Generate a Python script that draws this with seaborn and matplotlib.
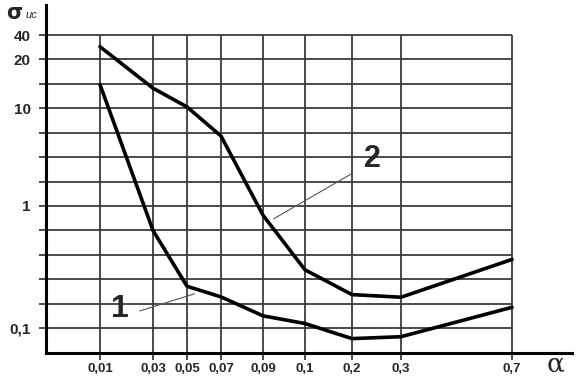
import matplotlib
matplotlib.use("Agg")

import matplotlib.pyplot as plt
import numpy as np
import pandas as pd
import seaborn as sns


OUT_PATH = "out.png"

# values
ALPHA = [0.01, 0.03, 0.05, 0.07, 0.09, 0.1, 0.2, 0.3, 0.7]
ALPHA_LABELS = ["0,01", "0,03", "0,05", "0,07", "0,09", "0,1", "0,2", "0,3", "0,7"]
SIGMA_1 = [14.0, 0.63, 0.22, 0.18, 0.126, 0.109, 0.082, 0.085, 0.148]
SIGMA_2 = [28.7, 13.3, 10.2, 5.2, 0.84, 0.30, 0.188, 0.179, 0.365]
Y_TICKS = [0.1, 1, 10, 20, 40]
Y_TICK_LABELS = ["0,1", "1", "10", "20", "40"]

# the original axes are hand drawn: uneven columns, broken log scale
X_ANCHOR = np.array([0.0, 0.01, 0.03, 0.05, 0.07, 0.09, 0.1, 0.2, 0.3, 0.7, 1.0])
X_UNITS = np.array([0, 54, 107, 141, 175, 217, 259, 306, 355, 466, 526])
Y_ANCHOR = np.log10([0.01, 0.1, 1, 10, 20, 40, 160])
Y_UNITS = np.array([-5, 0, 5, 9, 11, 12, 14])


def x_fwd(v):
    return np.interp(v, X_ANCHOR, X_UNITS)


def x_inv(u):
    return np.interp(u, X_UNITS, X_ANCHOR)


def y_fwd(v):
    return np.interp(np.log10(np.clip(v, 1e-6, None)), Y_ANCHOR, Y_UNITS)


def y_inv(u):
    return 10 ** np.interp(u, Y_UNITS, Y_ANCHOR)


def main() -> None:
    sns.set_style("white")
    plt.rcParams["font.family"] = ["Liberation Sans", "DejaVu Sans"]

    df = pd.concat([
        pd.DataFrame({"alpha": ALPHA, "sigma": SIGMA_1, "curve": "1"}),
        pd.DataFrame({"alpha": ALPHA, "sigma": SIGMA_2, "curve": "2"}),
    ])

    fig = plt.figure(figsize=(5.8, 3.79), dpi=100)
    ax = fig.add_axes([46 / 580, 26 / 379, 526 / 580, 348 / 379])

    sns.lineplot(data=df, x="alpha", y="sigma", units="curve", estimator=None,
                 color="black", lw=2.6, ax=ax, zorder=3)

    ax.set_xscale("function", functions=(x_fwd, x_inv))
    ax.set_yscale("function", functions=(y_fwd, y_inv))
    ax.set_xlim(0, 1.0)
    ax.set_ylim(y_inv(-1.02), y_inv(13.23))

    grid_y = y_inv(np.arange(13))
    grid_c = "#3c3c3c"
    ax.hlines(grid_y, 0, 0.7, color=grid_c, lw=1.3, zorder=1)
    ax.vlines(ALPHA, y_inv(-1.02), 40, color=grid_c, lw=1.3, zorder=1)

    ax.set_xticks(ALPHA)
    ax.set_xticklabels(ALPHA_LABELS, fontsize=9.5, fontweight="bold")
    ax.set_yticks(grid_y)
    labels = [""] * len(grid_y)
    for v, lab in zip(Y_TICKS, Y_TICK_LABELS):
        labels[int(round(float(y_fwd(v))))] = lab
    ax.set_yticklabels(labels, fontsize=11, fontweight="bold")
    ax.minorticks_off()
    ax.tick_params(axis="both", direction="out", length=5, width=1.3,
                   color=grid_c, left=True, bottom=True)
    ax.tick_params(axis="x", pad=2)
    ax.tick_params(axis="y", pad=6)
    ax.set_xlabel("")
    ax.set_ylabel("")

    for side in ["top", "right"]:
        ax.spines[side].set_visible(False)
    for side in ["left", "bottom"]:
        ax.spines[side].set_color("black")
        ax.spines[side].set_linewidth(2.2)

    # curve numbers with thin leader lines
    ax.text(0.0175, 0.142, "1", fontsize=23, fontweight="bold",
            ha="center", va="center")
    ax.annotate("", xy=(0.056, 0.194), xytext=(0.024, 0.136),
                arrowprops=dict(arrowstyle="-", color="#555555", lw=0.8))
    ax.text(0.241, 3.02, "2", fontsize=22, fontweight="bold",
            ha="center", va="center")
    ax.annotate("", xy=(0.092, 0.766), xytext=(0.206, 2.24),
                arrowprops=dict(arrowstyle="-", color="#555555", lw=0.8))

    fig.text(6 / 580, 1 - 13 / 379, "σ", fontsize=15, fontweight="bold",
             family=["DejaVu Sans"], va="center", ha="left")
    fig.text(26 / 580, 1 - 15 / 379, "ис", fontsize=8, style="italic",
             va="center", ha="left")
    fig.text(556 / 580, 1 - 364 / 379, "α", fontsize=19,
             family=["DejaVu Serif"], va="center", ha="center")

    fig.savefig(OUT_PATH, dpi=100)
    plt.close(fig)


if __name__ == "__main__":
    main()
